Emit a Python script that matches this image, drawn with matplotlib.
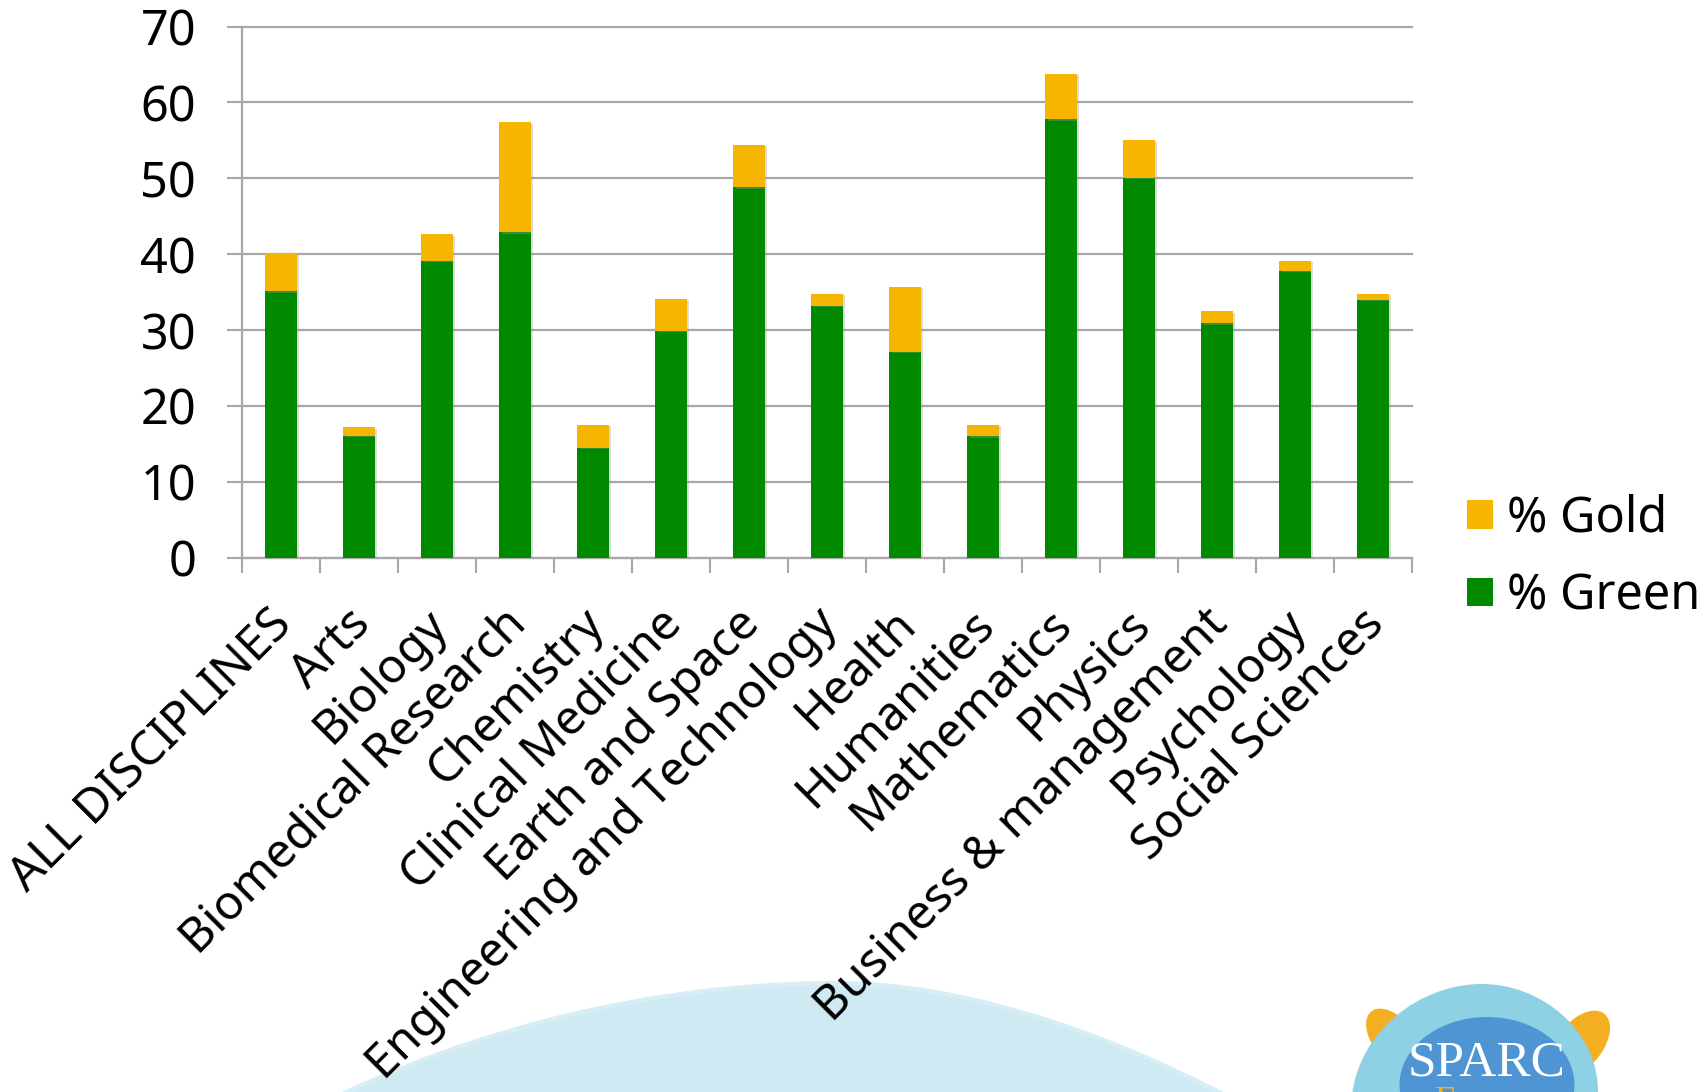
import matplotlib
matplotlib.use("Agg")
import matplotlib.pyplot as plt
import numpy as np
from matplotlib.patches import Ellipse, PathPatch
from matplotlib.path import Path
import matplotlib.patheffects as pe

plt.rcParams['font.family'] = ['Noto Sans', 'DejaVu Sans']

disciplines = ['ALL DISCIPLINES', 'Arts', 'Biology', 'Biomedical Research', 'Chemistry',
               'Clinical Medicine', 'Earth and Space', 'Engineering and Technology', 'Health',
               'Humanities', 'Mathematics', 'Physics', 'Business & management', 'Psychology',
               'Social Sciences']
green = [35.1, 16.1, 39.1, 42.9, 14.5, 29.9, 48.8, 33.2, 27.1, 16.0, 57.8, 50.1, 30.9, 37.8, 34.0]
gold = [5.1, 1.1, 3.5, 14.5, 3.0, 4.2, 5.6, 1.6, 8.6, 1.5, 6.0, 4.9, 1.6, 1.3, 0.8]
y_ticks = [0, 10, 20, 30, 40, 50, 60, 70]

GREEN = '#008A00'
GOLD = '#F6B500'
GRID = '#A8A8A8'

W, H = 1707, 1092


def px(x, y):
    '''pixel position -> figure fraction'''
    return x / W, 1 - y / H


fig = plt.figure(figsize=(W / 100, H / 100), dpi=100)
fig.patch.set_facecolor('white')

# light blue hill in the lower part of the slide (two cubic bezier pieces)
hill_pts = [(340, 1095), (520, 1010), (700, 983), (836, 983),
            (960, 983), (1100, 1030), (1225, 1095), (340, 1095)]
hill_codes = [Path.MOVETO] + [Path.CURVE4] * 6 + [Path.CLOSEPOLY]
hill = Path([px(*p) for p in hill_pts], hill_codes)
fig.patches.append(PathPatch(hill, facecolor='#CFEAF3', edgecolor='#D8EEF6', linewidth=3,
                             transform=fig.transFigure, zorder=-5))

# logo
fig.patches.append(Ellipse(px(1394, 1040), 46 / W, 66 / H, angle=20, facecolor='#F4AE22',
                           edgecolor='none', transform=fig.transFigure, zorder=-4))
fig.patches.append(Ellipse(px(1580, 1044), 50 / W, 70 / H, angle=-20, facecolor='#F4AE22',
                           edgecolor='none', transform=fig.transFigure, zorder=-4))
blob_pts = [(1352, 1095), (1360, 1030), (1420, 985), (1480, 984),
            (1540, 983), (1600, 1030), (1598, 1095), (1352, 1095)]
blob_codes = [Path.MOVETO] + [Path.CURVE4] * 6 + [Path.CLOSEPOLY]
fig.patches.append(PathPatch(Path([px(*p) for p in blob_pts], blob_codes), facecolor='#8ED0E4',
                             edgecolor='none', transform=fig.transFigure, zorder=-3))
fig.patches.append(Ellipse(px(1487, 1085), 175 / W, 136 / H, facecolor='#4F95D3',
                           edgecolor='none', transform=fig.transFigure, zorder=-2))
fig.text(*px(1487, 1076), 'SPARC', family='Liberation Serif', fontsize=37, color='white',
         ha='center', va='baseline')
fig.text(*px(1487, 1086), 'Europe', family='Liberation Serif', fontsize=26, color='#F2B21B',
         ha='center', va='top')

ax = fig.add_axes([242 / W, 1 - 557.7 / H, 1170 / W, 531.1 / H])
x = np.arange(len(disciplines))

shadow = [pe.SimplePatchShadow(offset=(2, -1), shadow_rgbFace='#9A9A9A', alpha=0.35), pe.Normal()]
ax.bar(x, green, 0.4, color=GREEN, label='% Green', zorder=3, path_effects=shadow)
ax.bar(x, gold, 0.4, bottom=green, color=GOLD, label='% Gold', zorder=3, path_effects=shadow)

ax.set_xlim(-0.5, len(disciplines) - 0.5)
ax.set_ylim(0, 70)
ax.set_yticks(y_ticks)
ax.tick_params(axis='y', labelsize=35, length=11, width=1.5, color=GRID, pad=22)
ax.yaxis.grid(True, color=GRID, linewidth=1.6)
for gl in ax.get_ygridlines():
    gl.set_clip_on(False)
ax.set_axisbelow(True)

ax.set_xticks(x)
ax.set_xticklabels(disciplines, rotation=45, ha='right', va='center_baseline',
                   rotation_mode='anchor')
ax.tick_params(axis='x', which='major', length=0, labelsize=34.5, pad=40)
ax.set_xticks(np.arange(len(disciplines) + 1) - 0.5, minor=True)
ax.tick_params(axis='x', which='minor', length=11, width=1.5, color=GRID)

for side in ['top', 'right']:
    ax.spines[side].set_visible(False)
for side in ['left', 'bottom']:
    ax.spines[side].set_color(GRID)
    ax.spines[side].set_linewidth(1.6)

handles, labels = ax.get_legend_handles_labels()
leg = fig.legend(handles[::-1], labels[::-1], loc='upper left', bbox_to_anchor=px(1467, 494),
                 frameon=False, fontsize=35, handlelength=0.53, handleheight=0.53,
                 handletextpad=0.3, labelspacing=0.56, borderpad=0, borderaxespad=0)
for h in leg.legend_handles:
    h.set_path_effects([])

fig.savefig('out.png', dpi=100)
